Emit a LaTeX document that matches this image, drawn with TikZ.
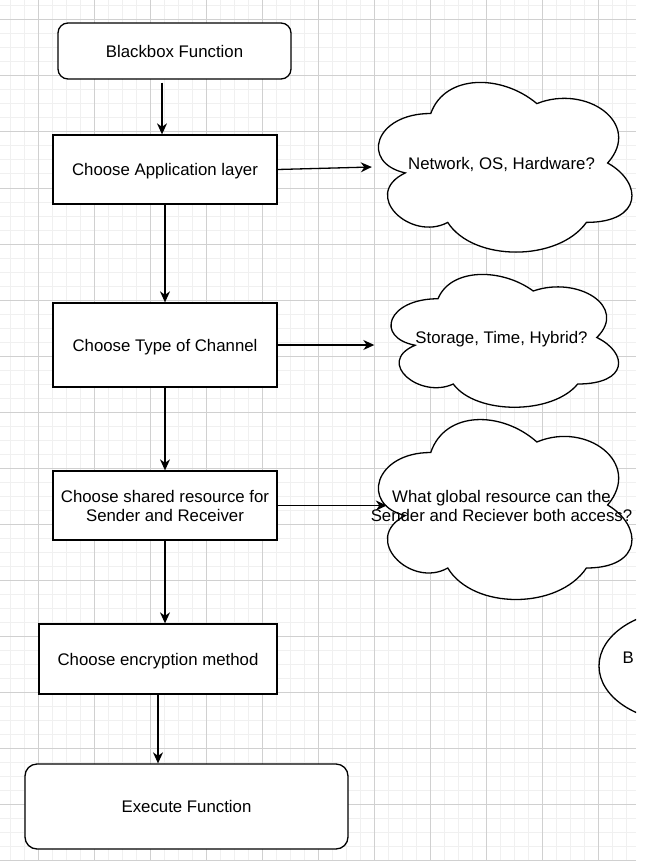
\documentclass[tikz,border=0pt]{standalone}
\usepackage{fontspec}
\setmainfont{Liberation Sans}
\usetikzlibrary{arrows.meta,calc,shapes.geometric}
\definecolor{gridminor}{RGB}{240,240,240}
\definecolor{gridmajor}{RGB}{208,208,208}
\tikzset{
  txt/.style={font=\fontsize{16.8}{19}\selectfont, align=center, inner sep=0pt},
  oneline/.style={text height=15.6pt, text depth=3.2pt},
  box/.style={txt, draw=black, line width=1.3pt, fill=white},
  rbox/.style={box, rounded corners=10pt},
  cloudtxt/.style={txt},
  cloudline/.style={draw=black, fill=white, line width=1.3pt},
  link/.style={line width=1.3pt, -{Stealth[length=11pt,width=10pt,inset=3.5pt]}},
  minorline/.style={draw=gridminor, line width=1pt},
  majorline/.style={draw=gridmajor, line width=1pt},
}
\newcommand\cloudnode[7]{%
  \begin{scope}[shift={(#2,#3)}, x=#4pt, y=-#5pt]
    \draw[cloudline] (0.25,0.25) .. controls (0.05,0.25) and (0,0.5) .. (0.16,0.55)
      .. controls (0,0.66) and (0.18,0.9) .. (0.31,0.8)
      .. controls (0.4,1) and (0.7,1) .. (0.8,0.8)
      .. controls (1,0.8) and (1,0.6) .. (0.875,0.5)
      .. controls (1,0.3) and (0.8,0.1) .. (0.625,0.2)
      .. controls (0.5,0.05) and (0.3,0.05) .. (0.25,0.25) -- cycle;
  \end{scope}
  \node[cloudtxt, #6, minimum width=#4pt, minimum height=#5pt] (#1) at ({#2+#4/2},{#3+#5/2}) {#7};
}
\begin{document}
\begin{tikzpicture}[x=1pt, y=-1pt]
\useasboundingbox (0,0) rectangle (654,861);
\fill[white] (0,0) rectangle (654,861);
\begin{scope}
\clip (0,0) rectangle (636,861);
% grid
\foreach \i in {0,...,44} { \draw[minorline] ({10+14*\i},0) -- ({10+14*\i},861); }
\foreach \i in {0,...,61} { \draw[minorline] (0,{6+14*\i}) -- (636,{6+14*\i}); }
\foreach \i in {0,...,10} { \draw[majorline] ({38+56*\i},0) -- ({38+56*\i},861); }
\foreach \i in {0,...,15} { \draw[majorline] (0,{20+56*\i}) -- (636,{20+56*\i}); }

% clouds
\cloudnode{c1}{360}{64}{283}{198}{oneline}{Network, OS, Hardware?}
\cloudnode{c2}{374.5}{260}{254}{155}{oneline}{Storage, Time, Hybrid?}
\cloudnode{c3}{360}{400}{283}{210}{yshift=-0.7pt}{What global resource can the\\Sender and Reciever both access?}

% ellipse at right edge
\node[draw=black, line width=1.3pt, fill=white, ellipse, minimum width=168pt, minimum height=112pt] (bell) at (683,666) {};
\node[txt, oneline, anchor=west] (btxt) at (622.5,657) {B};

% boxes
\node[rbox, oneline, minimum width=233pt, minimum height=56pt] (bb) at (174.5,51) {Blackbox Function};
\node[box, oneline, minimum width=224pt, minimum height=69pt] (app) at (165,169.5) {Choose Application layer};
\node[box, oneline, minimum width=224pt, minimum height=84pt] (chan) at (165,345) {Choose Type of Channel};
\node[box, minimum width=224pt, minimum height=69pt] (shared) at (165,505.5) {Choose shared resource for\\Sender and Receiver};
\node[box, oneline, minimum width=238pt, minimum height=70pt] (enc) at (158,659) {Choose encryption method};
\node[rbox, oneline, rounded corners=12pt, minimum width=323pt, minimum height=85pt] (exec) at (186.5,806.5) {Execute Function};

% connectors
\draw[link] ([xshift=-12.5pt,yshift=-3pt]bb.south) -- ([xshift=-3pt]app.north);
\draw[link] (app.east) -- ([xshift=12pt,yshift=-4pt]c1.west);
\draw[link] (app.south) -- (chan.north);
\draw[link] (chan.east) -- (chan.east -| c2.west);
\draw[link] (chan.south) -- (shared.north);
\draw[link] (shared.east) -- ($(shared.east -| c3.west)+(27,0)$);
\draw[link] (shared.south) -- (shared.south |- enc.north);
\draw[link] (enc.south) -- (enc.south |- exec.north);
\end{scope}
\end{tikzpicture}
\end{document}
